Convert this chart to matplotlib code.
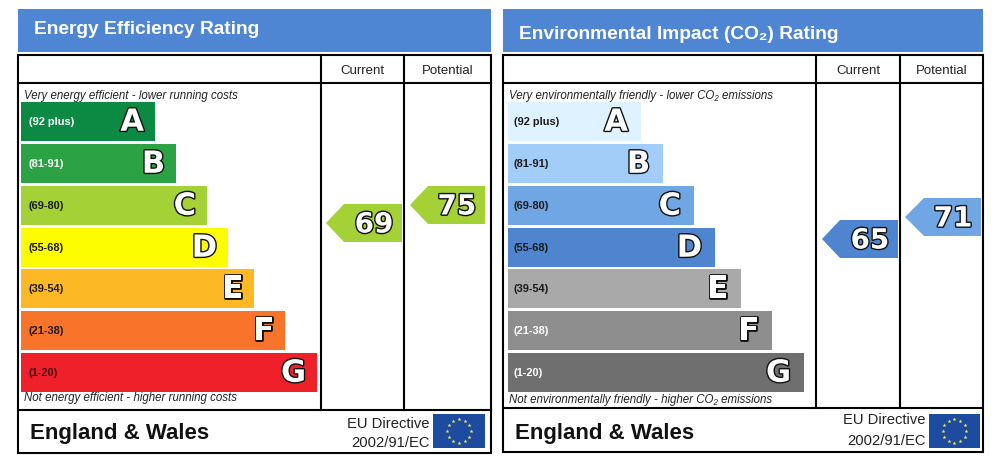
import numpy as np
import matplotlib
matplotlib.use("Agg")
import matplotlib.pyplot as plt
import matplotlib.patheffects as pe
from matplotlib.patches import Rectangle, Polygon

plt.rcParams['font.family'] = ['Liberation Sans', 'DejaVu Sans']

# ---- data ----
band_letters = ["A", "B", "C", "D", "E", "F", "G"]
band_ranges = ["(92 plus)", "(81-91)", "(69-80)", "(55-68)", "(39-54)", "(21-38)", "(1-20)"]

energy_title = "Energy Efficiency Rating"
energy_top = "Very energy efficient - lower running costs"
energy_bottom = "Not energy efficient - higher running costs"
energy_lengths = [134, 155, 186, 207, 233, 264, 296]
energy_colors = ["#0c8a44", "#2ba244", "#a3d136", "#fdfd00", "#fdb825", "#f8742b", "#ee2029"]
energy_label_colors = ["white", "white", "#1a1a1a", "#1a1a1a", "#1a1a1a", "#1a1a1a", "#4a0a0a"]
energy_current = 69
energy_potential = 75
energy_current_color = "#a3d136"
energy_potential_color = "#a3d136"

env_title = "Environmental Impact (CO\u2082) Rating"
env_top = "Very environmentally friendly - lower CO\u2082 emissions"
env_bottom = "Not environmentally friendly - higher CO\u2082 emissions"
env_lengths = [133, 155, 186, 207, 233, 264, 296]
env_colors = ["#dff2ff", "#a3cdf9", "#6fa6e3", "#4f85cf", "#a9a9a9", "#8e8e8e", "#6f6f6f"]
env_label_colors = ["#1a1a1a", "#1a1a1a", "#1a1a1a", "#1a1a1a", "#1a1a1a", "white", "white"]
env_current = 65
env_potential = 71
env_current_color = "#4f85cf"
env_potential_color = "#6fa6e3"

column_labels = ["Current", "Potential"]
region = "England & Wales"
directive = ["EU Directive", "2002/91/EC"]

# ---- layout (pixels) ----
BAND_TOPS = [102, 144, 186, 228, 269, 311, 353]
BAND_H = 38.5
HEAD = "#4f86d3"

fig = plt.figure(figsize=(9.98, 4.58), dpi=100)
ax = fig.add_axes([0, 0, 1, 1])
ax.set_xlim(0, 998)
ax.set_ylim(458, 0)
ax.axis("off")


def outlined(x, y, s, size, ha="center", lw=2.0):
    ax.text(x, y, s, fontsize=size, fontweight="bold", color="white", ha=ha, va="center",
            family="DejaVu Sans", zorder=6,
            path_effects=[pe.withStroke(linewidth=lw, foreground="#111111")])


def pointer(top, tip, shoulder, right, value, color):
    h = 38
    ax.add_patch(Polygon([(tip, top + h / 2), (shoulder, top), (right, top),
                          (right, top + h), (shoulder, top + h)],
                         closed=True, fc=color, ec="none", zorder=4))
    outlined(right - 28, top + h / 2 + 1.5, str(value), 20)


def star_flag(x0, y0, w, h):
    ax.add_patch(Rectangle((x0, y0), w, h, fc="#1c4ba0", ec="none", zorder=3))
    a = np.arange(12) * np.pi / 6
    r = h * 0.34
    ax.scatter(x0 + w / 2 + r * np.cos(a), y0 + h / 2 + r * np.sin(a), marker="*", s=9,
               c="#ffe94a", linewidths=0, zorder=4)


def panel(x0, x1, c1, c2, bottom_row, bottom, head_x, head_y, title, top_txt, bot_txt, top_y,
          lengths, colors, label_colors, bar_x, letter_pad, dir_ys, flag_x, flag_w, note_x, range_x, note_size):
    ax.add_patch(Rectangle((x0, 9), x1 - x0, 43, fc=HEAD, ec="none"))
    ax.text(head_x, head_y, title, color="white", fontsize=13.8, fontweight="bold", va="center")
    ax.add_patch(Rectangle((x0, 55), x1 - x0, bottom - 55, ec="black", lw=1.5, zorder=5, fill=False))
    ax.plot([x0, x1], [83, 83], color="black", lw=1.5, zorder=5)
    ax.plot([x0, x1], [bottom_row, bottom_row], color="black", lw=1.5, zorder=5)
    ax.plot([c1, c1], [55, bottom_row], color="black", lw=1.5, zorder=5)
    ax.plot([c2, c2], [55, bottom_row], color="black", lw=1.5, zorder=5)
    ax.text((c1 + c2) / 2, 70.5, column_labels[0], fontsize=9.5, ha="center", va="center", color="#222222")
    ax.text((c2 + x1) / 2, 70.5, column_labels[1], fontsize=9.5, ha="center", va="center", color="#222222")
    ax.text(note_x, top_y, top_txt, fontsize=note_size, style="italic", va="center", color="#222222")
    ax.text(note_x, top_y + 303, bot_txt, fontsize=note_size, style="italic", va="center", color="#222222")
    for t, ln, col, lc, let, rng in zip(BAND_TOPS, lengths, colors, label_colors, band_letters, band_ranges):
        ax.barh(t + BAND_H / 2, ln, height=BAND_H, left=bar_x, color=col, linewidth=0, zorder=2)
        ax.text(range_x, t + BAND_H / 2 + 1, rng, fontsize=7.9, fontweight="bold", color=lc, va="center", zorder=6)
        outlined(bar_x + ln - letter_pad, t + BAND_H / 2 + 1, let, 22, ha="right")
    ax.text(x0 + 12, 433, region, fontsize=16, fontweight="bold", va="center", color="#111111")
    ax.text(flag_x - 3, dir_ys[0], directive[0], fontsize=10.6, ha="right", va="center", color="#222222")
    ax.text(flag_x - 3, dir_ys[1], directive[1], fontsize=10.6, ha="right", va="center", color="#222222")
    star_flag(flag_x, 414, flag_w, 34)


panel(18, 491, 321, 404, 410, 453, 34, 29, energy_title, energy_top, energy_bottom, 95.5,
      energy_lengths, energy_colors, energy_label_colors, 21, 11, (424, 443), 433, 52, 24, 29, 8.3)
pointer(204, 326, 344, 402, energy_current, energy_current_color)
pointer(186, 410, 428, 485, energy_potential, energy_potential_color)

panel(503, 983, 816, 900, 408, 452, 519, 34.5, env_title, env_top, env_bottom, 96.5,
      env_lengths, env_colors, env_label_colors, 508, 13, (420, 441), 929, 51, 509, 514, 8.3)
pointer(220, 822, 840, 898, env_current, env_current_color)
pointer(198, 905, 924, 981, env_potential, env_potential_color)

fig.savefig("out.png", dpi=100)
